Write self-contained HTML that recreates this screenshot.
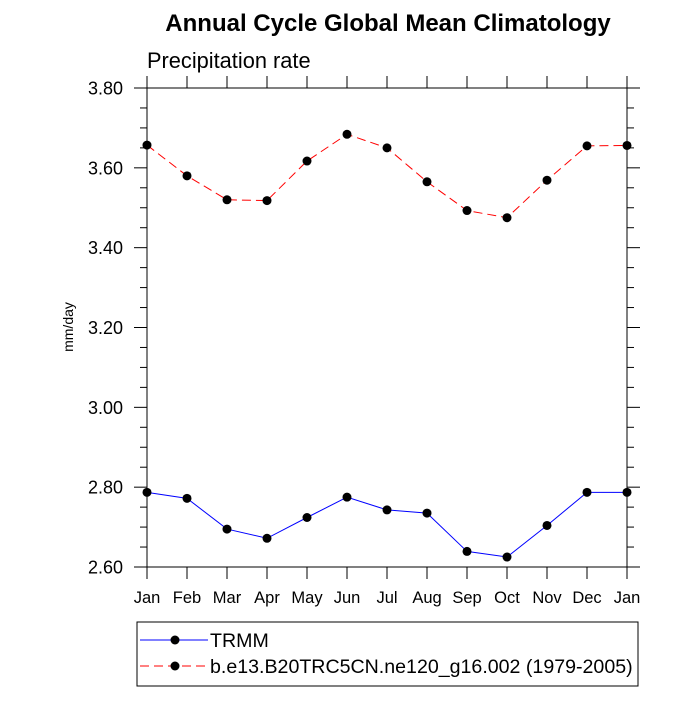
<!DOCTYPE html>
<html><head><meta charset="utf-8"><style>
body{margin:0;background:#fff}
svg text{font-family:"Liberation Sans",sans-serif}
</style></head><body>
<svg width="700" height="700" viewBox="0 0 700 700" id="chart">
<text x="388" y="31" font-size="24" font-weight="bold" text-anchor="middle">Annual Cycle Global Mean Climatology</text>
<text x="147" y="68" font-size="21.8">Precipitation rate</text>
<text transform="translate(73,327) rotate(-90)" font-size="14" text-anchor="middle">mm/day</text>
<rect x="147" y="88" width="480" height="479" fill="none" stroke="#000" stroke-width="1"/>
<g id="axes"></g>
<g id="series"></g>
<g>
<rect x="137" y="622" width="501" height="64" fill="none" stroke="#000"/>
<line x1="140" y1="640" x2="208" y2="640" stroke="#0000ff"/>
<circle cx="175" cy="640" r="4.5" fill="#000"/>
<text x="210" y="647" font-size="19.6">TRMM</text>
<line x1="140" y1="666" x2="208" y2="666" stroke="#ff0000" stroke-dasharray="9,5"/>
<circle cx="175" cy="666" r="4.5" fill="#000"/>
<text x="210" y="673" font-size="19.6">b.e13.B20TRC5CN.ne120_g16.002 (1979-2005)</text>
</g>
</svg>
<script>
const months=["Jan","Feb","Mar","Apr","May","Jun","Jul","Aug","Sep","Oct","Nov","Dec","Jan"];
const trmm=[2.787,2.772,2.695,2.672,2.724,2.775,2.743,2.735,2.639,2.625,2.704,2.787,2.787];
const model=[3.657,3.580,3.520,3.518,3.617,3.684,3.650,3.565,3.493,3.475,3.569,3.655,3.656];
const yTicks=[2.6,2.8,3.0,3.2,3.4,3.6,3.8];
const yMin=2.6,yMax=3.8;
const NS="http://www.w3.org/2000/svg";
const X0=147,X1=627,Y0=567,Y1=88;
function xs(i){return X0+(X1-X0)*i/(months.length-1);}
function ys(v){return Y0-(Y0-Y1)*(v-yMin)/(yMax-yMin);}
function mk(tag,attrs,parent){const e=document.createElementNS(NS,tag);for(const k in attrs)e.setAttribute(k,attrs[k]);parent.appendChild(e);return e;}
const ax=document.getElementById('axes');
for(let k=0;k<=24;k++){
  const v=yMin+k*0.05;
  const y=ys(v);
  const isMajor=yTicks.some(t=>Math.abs(t-v)<1e-6);
  const len=isMajor?13:7;
  const l=mk('line',{x1:X0-len,x2:X0,y1:y,y2:y,stroke:'#000'},ax);
  
  
  const r=mk('line',{x1:X1,x2:X1+len,y1:y,y2:y,stroke:'#000'},ax);
  
  
}
yTicks.forEach(t=>{
  const tx=mk('text',{x:123,y:ys(t)+6.5,'font-size':'18','text-anchor':'end'},ax);
  tx.textContent=t.toFixed(2);
  
  
});
months.forEach((m,i)=>{
  const x=xs(i);
  const b=mk('line',{x1:x,x2:x,y1:Y0,y2:Y0+12,stroke:'#000'},ax);
  
  
  const t=mk('line',{x1:x,x2:x,y1:Y1-12,y2:Y1,stroke:'#000'},ax);
  
  
  const tx=mk('text',{x:x,y:603,'font-size':'16.5','text-anchor':'middle'},ax);
  tx.textContent=m;
  
  
});
const sg=document.getElementById('series');
function draw(data,color,dash,name){
  const pts=data.map((v,i)=>xs(i)+','+ys(v)).join(' ');
  const pl=mk('polyline',{points:pts,fill:'none',stroke:color,'stroke-width':'1','stroke-dasharray':dash},sg);
  
  
  data.forEach((v,i)=>{
    const c=mk('circle',{cx:xs(i),cy:ys(v),r:4.5,fill:'#000'},sg);
    
    
  });
}
draw(trmm,'#0000ff','none','trmm');
draw(model,'#ff0000','9,5','model');
</script>
</body></html>
